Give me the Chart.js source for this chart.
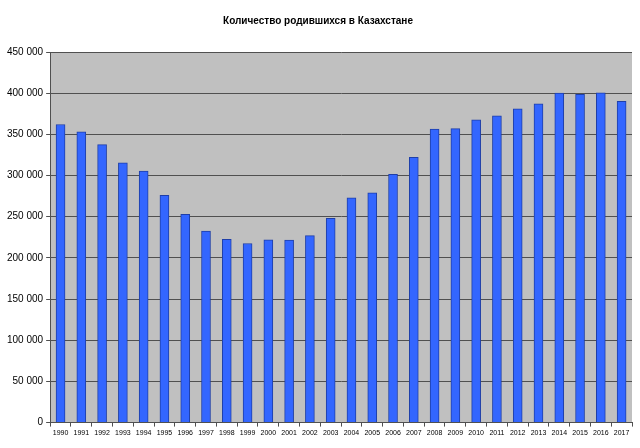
<!DOCTYPE html>
<html>
<head>
<meta charset="utf-8">
<script src="https://cdn.jsdelivr.net/npm/chart.js"></script>
<style>
  html, body { margin: 0; padding: 0; background: #fff; }
  #wrap { width: 640px; height: 448px; }
</style>
</head>
<body>
<div id="wrap"><canvas id="births" width="640" height="448"></canvas></div>
<script>
// Количество родившихся в Казахстане, 1990–2017
const years = ['1990','1991','1992','1993','1994','1995','1996','1997','1998','1999','2000','2001','2002','2003',
  '2004','2005','2006','2007','2008','2009','2010','2011','2012','2013','2014','2015','2016','2017'];
const births = [362000, 353000, 337500, 315500, 305500, 276000, 253000, 232500, 222500, 217500, 222000, 221500, 227000, 248000,
  273000, 279000, 301500, 322000, 356500, 357000, 367500, 372500, 381000, 387000, 400000, 398500, 400500, 390000];
const yTicks = [0, 50000, 100000, 150000, 200000, 250000, 300000, 350000, 400000, 450000];

// серый фон области построения
const plotBg = {
  id: 'plotBg',
  beforeDraw(chart) {
    const a = chart.chartArea, c = chart.ctx;
    c.save();
    c.fillStyle = '#c0c0c0';
    c.fillRect(a.left, a.top, a.right - a.left, a.bottom - a.top);
    c.restore();
  }
};

const fmt = v => String(v).replace(/\B(?=(\d{3})+(?!\d))/g, ' ');

new Chart(document.getElementById('births'), {
  type: 'bar',
  data: {
    labels: years,
    datasets: [{
      label: 'Родившиеся',
      data: births,
      backgroundColor: '#3366ff',
      borderColor: '#1f3fa8',
      borderWidth: 1,
      barThickness: 9
    }]
  },
  options: {
    responsive: false,
    animation: false,
    layout: { padding: { left: 4, right: 8, top: 3, bottom: 9 } },
    plugins: {
      legend: { display: false },
      tooltip: { enabled: false },
      title: {
        display: true,
        text: 'Количество родившихся в Казахстане',
        color: '#000',
        font: { family: 'Liberation Sans, Arial', size: 10, weight: 'bold' },
        padding: { top: 12, bottom: 25 }
      }
    },
    scales: {
      x: {
        grid: { display: true, drawOnChartArea: false, offset: true, tickLength: 4, color: '#505050' },
        border: { display: true, color: '#505050' },
        ticks: { color: '#000', autoSkip: false, maxRotation: 0, padding: 2,
          font: { family: 'Liberation Sans, Arial', size: 7 } }
      },
      y: {
        min: 0,
        max: 450000,
        afterBuildTicks: axis => { axis.ticks = yTicks.map(v => ({ value: v })); },
        grid: { color: '#505050', drawTicks: true, tickLength: 4 },
        border: { display: true, color: '#505050' },
        ticks: { color: '#000', padding: 3, callback: v => fmt(v),
          font: { family: 'Liberation Sans, Arial', size: 10 } }
      }
    }
  },
  plugins: [plotBg]
});
</script>
</body>
</html>
